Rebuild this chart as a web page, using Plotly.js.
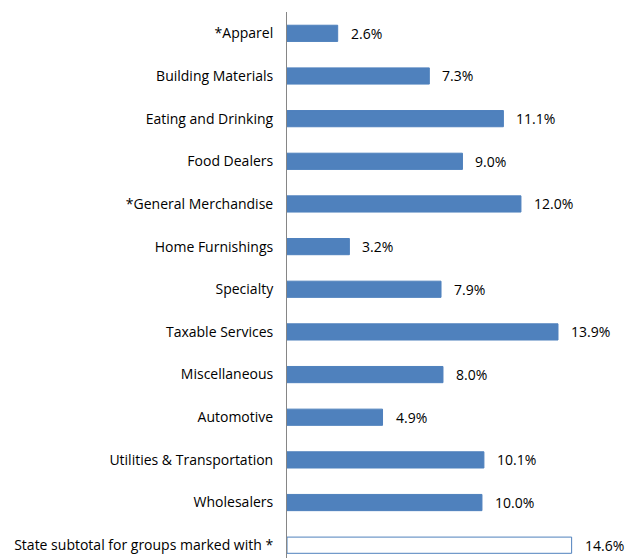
<!DOCTYPE html>
<html><head><meta charset="utf-8">
<script src="https://cdn.plot.ly/plotly-3.0.1.min.js"></script>
<style>html,body{margin:0;padding:0;background:#fff}#chart{width:635px;height:558px}</style>
</head><body><div id="chart"></div>
<script>
const categories = ["*Apparel","Building Materials","Eating and Drinking","Food Dealers","*General Merchandise","Home Furnishings","Specialty","Taxable Services","Miscellaneous","Automotive","Utilities & Transportation","Wholesalers","State subtotal for groups marked with *"];
const values = [2.6,7.3,11.1,9.0,12.0,3.2,7.9,13.9,8.0,4.9,10.1,10.0,14.6];
const labels = values.map(v => v.toFixed(1) + "%");
const fillColors = values.map((v,i) => i === values.length-1 ? "#FFFFFF" : "#4F81BD");

const font = {family: "Open Sans, sans-serif", size: 14, color: "#000"};
const trace = {
  type: "bar", orientation: "h", x: values, y: categories,
  marker: {color: fillColors, line: {color: "#4F81BD", width: 1}},
  hoverinfo: "none"
};
const annotations = values.map((v,i) => ({
  x: v, y: categories[i], xref: "x", yref: "y", text: labels[i],
  showarrow: false, xanchor: "left", xshift: 11, font: font
}));
const layout = {
  width: 635, height: 558,
  margin: {l: 287, r: 0, t: 12, b: 0},
  paper_bgcolor: "#fff", plot_bgcolor: "#fff",
  showlegend: false, bargap: 0.62,
  font: font,
  xaxis: {range: [0, 17.85], showgrid: false, zeroline: false, showticklabels: false, showline: false, ticks: ""},
  yaxis: {type: "category", range: [12.3, -0.5], showgrid: false, zeroline: false,
          showline: true, linecolor: "#868686", linewidth: 1,
          ticks: "outside", ticklen: 10, tickcolor: "rgba(0,0,0,0)", tickfont: font},
  annotations: annotations
};
Plotly.newPlot("chart", [trace], layout, {staticPlot: true, displayModeBar: false});
</script></body></html>
